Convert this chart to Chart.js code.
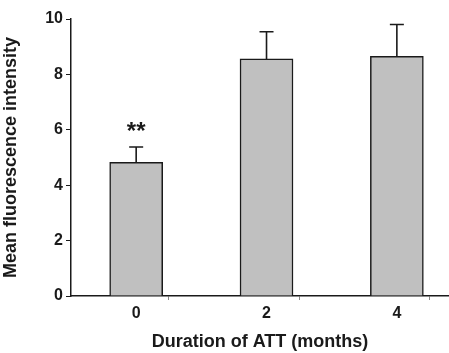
<!DOCTYPE html>
<html>
<head>
<meta charset="utf-8">
<script src="https://cdn.jsdelivr.net/npm/chart.js@4/dist/chart.umd.min.js"></script>
<style>
  html, body { margin: 0; padding: 0; background: #fff; }
  #chart-container { width: 449px; height: 353px; }
</style>
</head>
<body>
<div id="chart-container"><canvas id="myChart"></canvas></div>
<script>
// months of ATT
const months = [0, 2, 4];
const meanValues = [4.83, 8.56, 8.65];
const errorValues = [0.55, 0.98, 1.15];
const marks = ['**', '', ''];
const yTicks = [0, 2, 4, 6, 8, 10];

const axisColor = '#1a1a1a';
const labelFont = { family: 'Liberation Sans, Arial, sans-serif', size: 16, weight: 'bold' };
const titleFont = { family: 'Liberation Sans, Arial, sans-serif', size: 18, weight: 'bold' };

// error bars and significance stars
const errorBarPlugin = {
    id: 'errorBars',
    afterDatasetsDraw(chart) {
        const ctx = chart.ctx;
        const x = chart.scales.x;
        const y = chart.scales.y;
        ctx.save();
        ctx.strokeStyle = axisColor;
        ctx.lineWidth = 1.6;
        for (let i = 0; i < months.length; i++) {
            const px = x.getPixelForValue(months[i]);
            const top = y.getPixelForValue(meanValues[i]);
            const hi = y.getPixelForValue(meanValues[i] + errorValues[i]);
            ctx.beginPath();
            ctx.moveTo(px, top);
            ctx.lineTo(px, hi);
            ctx.moveTo(px - 7, hi);
            ctx.lineTo(px + 7, hi);
            ctx.stroke();
            if (marks[i]) {
                ctx.fillStyle = axisColor;
                ctx.font = 'bold 24px Liberation Sans, Arial, sans-serif';
                ctx.textAlign = 'center';
                ctx.textBaseline = 'middle';
                ctx.fillText(marks[i], px, y.getPixelForValue(6.1) + 5);
            }
        }
        ctx.restore();
    }
};

const data = {
    datasets: [{
        data: months.map((m, i) => ({ x: m, y: meanValues[i] })),
        backgroundColor: '#c0c0c0',
        borderColor: axisColor,
        borderWidth: 1.5,
        barThickness: 53
    }]
};

const config = {
    type: 'bar',
    data: data,
    plugins: [errorBarPlugin],
    options: {
        responsive: true,
        maintainAspectRatio: false,
        animation: false,
        layout: { padding: { top: 19, right: 0, left: 0, bottom: 0 } },
        scales: {
            x: {
                type: 'linear',
                offset: false,
                min: -1,
                max: 4.8,
                afterFit: (scale) => { scale.height = 57; },
                afterBuildTicks: (scale) => {
                    scale.ticks = [-1, 0, 1, 2, 3, 4].map(v => ({ value: v }));
                },
                ticks: {
                    color: axisColor,
                    font: labelFont,
                    padding: 4,
                    callback: (v) => months.includes(v) ? String(v) : ''
                },
                grid: {
                    drawOnChartArea: false,
                    tickLength: 4,
                    tickColor: (c) => (c.tick && months.includes(c.tick.value)) ? 'rgba(0,0,0,0)' : '#888'
                },
                border: { color: axisColor, width: 1.5 },
                title: {
                    display: true,
                    text: 'Duration of ATT (months)',
                    color: axisColor,
                    font: titleFont,
                    padding: { top: 4, bottom: 0 }
                }
            },
            y: {
                min: 0,
                max: 10,
                afterFit: (scale) => { scale.width = 71; },
                afterBuildTicks: (scale) => {
                    scale.ticks = yTicks.map(v => ({ value: v }));
                },
                ticks: {
                    color: axisColor,
                    font: labelFont,
                    padding: 3
                },
                grid: {
                    drawOnChartArea: false,
                    tickLength: 5,
                    tickColor: axisColor
                },
                border: { color: axisColor, width: 1.5 },
                title: {
                    display: true,
                    text: 'Mean fluorescence intensity',
                    color: axisColor,
                    font: titleFont,
                    padding: { top: 0, bottom: 4 }
                }
            }
        },
        plugins: {
            legend: { display: false },
            tooltip: { enabled: false }
        }
    }
};

const myChart = new Chart(document.getElementById('myChart'), config);
</script>
</body>
</html>
